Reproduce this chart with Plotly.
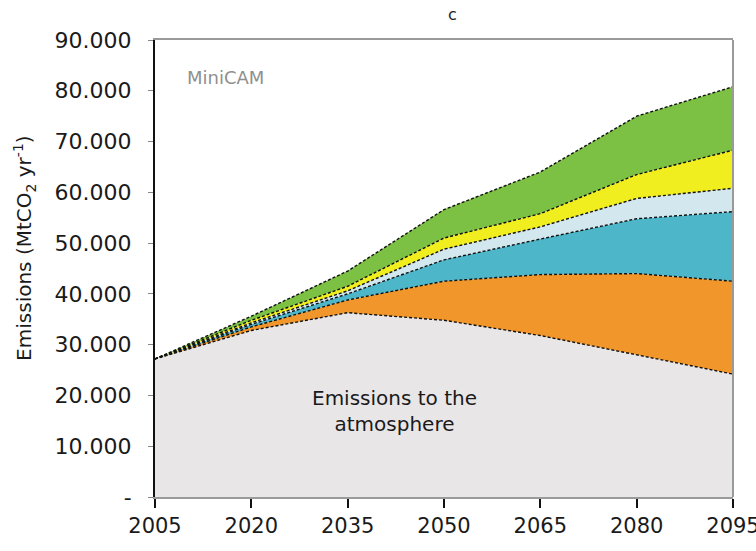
import plotly.graph_objects as go

# Model years on the horizontal axis
years = [2005, 2020, 2035, 2050, 2065, 2080, 2095]

# Stacked emission components (MtCO2 per year), bottom to top
atmosphere = [27200, 32800, 36300, 34800, 31800, 28000, 24200]
band_orange = [0, 700, 2500, 7700, 12000, 16000, 18300]
band_teal = [0, 500, 1200, 4200, 7000, 10800, 13700]
band_lightblue = [0, 300, 600, 2100, 2400, 4000, 4600]
band_yellow = [0, 500, 900, 2200, 2600, 4700, 7500]
band_green = [0, 800, 3000, 5600, 8200, 11500, 12500]

# Axis tick labels
y_tickvals = [0, 10000, 20000, 30000, 40000, 50000, 60000, 70000, 80000, 90000]
y_ticktext = ["-", "10.000", "20.000", "30.000", "40.000", "50.000",
              "60.000", "70.000", "80.000", "90.000"]
x_tickvals = years

layers = [
    ("Emissions to the atmosphere", atmosphere, "#E9E6E8"),
    ("orange", band_orange, "#F0962A"),
    ("teal", band_teal, "#4DB6C9"),
    ("lightblue", band_lightblue, "#D3E7EF"),
    ("yellow", band_yellow, "#F1EE1F"),
    ("green", band_green, "#7CC143"),
]

fig = go.Figure()
for name, vals, col in layers:
    fig.add_trace(go.Scatter(
        x=years, y=vals, name=name, mode="lines",
        stackgroup="one", fillcolor=col,
        line=dict(color="#111111", width=1.4, dash="3px,2px"),
        showlegend=False, hoverinfo="skip",
    ))

font_main = "DejaVu Sans, Verdana, sans-serif"
ink = "#1a1a1a"

fig.update_layout(
    width=756, height=551,
    margin=dict(l=155, r=23, t=40, b=54, autoexpand=False),
    paper_bgcolor="white", plot_bgcolor="white",
    font=dict(family=font_main, color=ink),
    xaxis=dict(
        range=[2005, 2095], tickvals=x_tickvals,
        ticktext=[str(y) for y in x_tickvals],
        showgrid=False, zeroline=False, automargin=False,
        showline=True, linecolor="#9a9a9a", linewidth=2, mirror=True,
        ticks="outside", ticklen=9, tickwidth=1.5, tickcolor="#111111",
        ticklabeloverflow="allow",
        tickfont=dict(size=21, family=font_main, color=ink),
    ),
    yaxis=dict(
        range=[0, 90000], tickvals=y_tickvals, ticktext=y_ticktext,
        showgrid=False, zeroline=False, automargin=False,
        showline=True, linecolor="#111111", linewidth=2,
        ticks="outside", ticklen=5, tickwidth=1.2, tickcolor="#888888",
        ticklabelstandoff=12,
        tickfont=dict(size=22, family=font_main, color=ink),
    ),
)

# Right border of the frame
fig.add_shape(type="line", xref="paper", yref="paper", x0=1, x1=1, y0=0, y1=1,
              line=dict(color="#9a9a9a", width=2))

# Vertical axis title
fig.add_annotation(text="Emissions (MtCO<sub>2</sub> yr<sup>-1</sup>)",
                   xref="paper", yref="paper", x=-0.225, y=0.545,
                   xanchor="center", yanchor="middle", textangle=-90,
                   showarrow=False,
                   font=dict(size=20, family=font_main, color=ink))
# Panel letter
fig.add_annotation(text="c", xref="paper", yref="paper", x=0.514, y=1.0,
                   yanchor="bottom", yshift=14, showarrow=False,
                   font=dict(size=16, family=font_main, color="#222222"))
# Model name
fig.add_annotation(text="MiniCAM", xref="paper", yref="paper", x=0.052, y=0.919,
                   xanchor="left", yanchor="middle", showarrow=False,
                   font=dict(size=18, family=font_main, color="#8f8f8f"))
# Label of the bottom layer
fig.add_annotation(text="Emissions to the<br>atmosphere", xref="paper", yref="paper",
                   x=0.415, y=0.188, xanchor="center", yanchor="middle",
                   showarrow=False,
                   font=dict(size=20, family=font_main, color=ink))

fig.write_html("out.html")
